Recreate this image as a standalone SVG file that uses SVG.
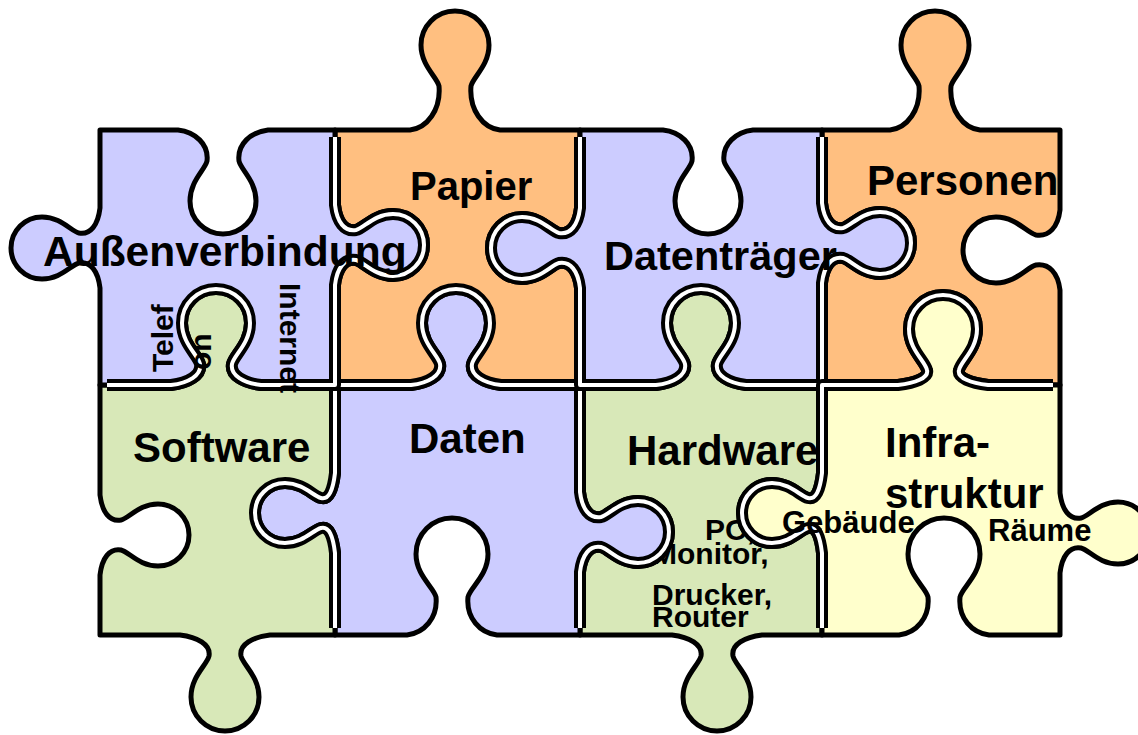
<svg xmlns="http://www.w3.org/2000/svg" xmlns:xlink="http://www.w3.org/1999/xlink" width="1138" height="735" viewBox="0 0 1138 735">
<style>
.pc{stroke:#000;stroke-width:5;stroke-linejoin:round}
.lav{fill:#CCCCFF}.org{fill:#FFBF80}.grn{fill:#D8E8B8}.yel{fill:#FFFFCC}
.sk{fill:none;stroke:#000;stroke-width:12;stroke-linejoin:round}
.sw{fill:none;stroke:#fff;stroke-width:4;stroke-linejoin:round}
.t{font-family:"Liberation Sans",Arial,Helvetica,sans-serif;font-weight:bold;fill:#000;stroke:none}
.big{font-size:42px}.sm{font-size:30px}
</style>
<defs>
<filter id="er" filterUnits="userSpaceOnUse" x="-20" y="-20" width="1200" height="780">
<feMorphology operator="erode" radius="9"/>
</filter>
<mask id="inner" maskUnits="userSpaceOnUse" x="0" y="0" width="1138" height="735">
<g filter="url(#er)" fill="#fff" stroke="#fff" stroke-width="4">
<use href="#pA"/><use href="#pP"/><use href="#pT"/><use href="#pR"/>
<use href="#pW"/><use href="#pD"/><use href="#pH"/><use href="#pI"/>
</g>
</mask>
</defs>
<rect x="0" y="0" width="1138" height="735" fill="#fff"/>

<g id="hardware" class="pc grn">
<path id="pH" d="M580,385 L656,385 C673,383 687,375.5 685,364 C683,355 667,343.5 667,323 A34,34 0 0 1 735,323 C735,343.5 719,355 717,364 C715,375.5 729,383 746,385 L822,385 L822,473 C820,490 816,500 808,498 C800,496 790,483 772,483 A30,30 0 0 0 772,543 C790,543 800,530 808,528 C816,526 820,536 822,553 L822,635 L762,635 C745,637 731,644.5 733,656 C735,665 751,676.5 751,697 A34,34 0 0 1 683,697 C683,676.5 699,665 701,656 C703,644.5 689,637 672,635 L580,635 L580,572 C582,555 589.5,545 601,547 C609,549 619.5,563 638,563 A31,31 0 0 0 638,501 C619.5,501 609,515 601,517 C589.5,519 582,509 580,492 Z"/>
<use href="#pH" class="sk" mask="url(#inner)"/>
<use href="#pH" class="sw" mask="url(#inner)"/>
<text class="t big" x="627" y="465">Hardware</text>
<text class="t sm" x="705" y="540">PC,</text>
<text class="t sm" x="652" y="564">Monitor,</text>
<text class="t sm" x="652" y="605">Drucker,</text>
<text class="t sm" x="652" y="627">Router</text>
</g>

<g id="daten" class="pc lav">
<path id="pD" d="M335,385 L411,385 C428,383 442,375.5 440,364 C438,355 422,343.5 422,323 A34,34 0 0 1 490,323 C490,343.5 474,355 472,364 C470,375.5 484,383 501,385 L580,385 L580,492 C582,509 589.5,519 601,517 C609,515 619.5,501 638,501 A31,31 0 0 1 638,563 C619.5,563 609,549 601,547 C589.5,545 582,555 580,572 L580,635 L497,635 C480,633 466,618 468,597 C470,587.5 488,575.5 488,554 A36,36 0 0 0 416,554 C416,575.5 434,587.5 436,597 C438,618 424,633 407,635 L335,635 L335,553 C333,536 329,526 321,528 C313,530 303,543 285,543 A30,30 0 0 1 285,483 C303,483 313,496 321,498 C329,500 333,490 335,473 Z"/>
<use href="#pD" class="sk" mask="url(#inner)"/>
<use href="#pD" class="sw" mask="url(#inner)"/>
<text class="t big" x="409" y="453">Daten</text>
</g>

<g id="software" class="pc grn">
<path id="pW" d="M100,385 L171,385 C188,383 202,375.5 200,364 C198,355 182,343.5 182,323 A34,34 0 0 1 250,323 C250,343.5 234,355 232,364 C230,375.5 244,383 261,385 L335,385 L335,473 C333,490 329,500 321,498 C313,496 303,483 285,483 A30,30 0 0 0 285,543 C303,543 313,530 321,528 C329,526 333,536 335,553 L335,635 L270,635 C253,637 239,644.5 241,656 C243,665 259,676.5 259,697 A34,34 0 0 1 191,697 C191,676.5 207,665 209,656 C211,644.5 197,637 180,635 L100,635 L100,575 C102,558 109.5,548 121,550 C129,552 139.5,566 158,566 A31,31 0 0 0 158,504 C139.5,504 129,518 121,520 C109.5,522 102,512 100,495 Z"/>
<use href="#pW" class="sk" mask="url(#inner)"/>
<use href="#pW" class="sw" mask="url(#inner)"/>
<text class="t big" x="133" y="462">Software</text>
</g>

<g id="papier" class="pc org">
<path id="pP" d="M335,130 L410,130 C427,128 441,110 439,86 C437,77 421,65.5 421,45 A34,34 0 0 1 489,45 C489,65.5 473,77 471,86 C469,110 483,128 500,130 L580,130 L580,208 C578,225 570.5,235 559,233 C551,231 540.5,217 522,217 A31,31 0 0 0 522,279 C540.5,279 551,265 559,263 C570.5,261 578,271 580,288 L580,385 L501,385 C484,383 470,375.5 472,364 C474,355 490,343.5 490,323 A34,34 0 0 0 422,323 C422,343.5 438,355 440,364 C442,375.5 428,383 411,385 L335,385 L335,285 C337,268 344.5,258 356,260 C364,262 374.5,276 393,276 A31,31 0 0 0 393,214 C374.5,214 364,228 356,230 C344.5,232 337,222 335,205 Z"/>
<use href="#pP" class="sk" mask="url(#inner)"/>
<use href="#pP" class="sw" mask="url(#inner)"/>
<text class="t" style="font-size:40px" x="410" y="200">Papier</text>
</g>

<g id="aussenverbindung" class="pc lav">
<path id="pA" d="M100,130 L178,130 C195,132 209,144 207,161 C205,170 190,181 190,201 A33,33 0 0 0 256,201 C256,181 241,170 239,161 C237,144 251,132 268,130 L335,130 L335,205 C337,222 344.5,232 356,230 C364,228 374.5,214 393,214 A31,31 0 0 1 393,276 C374.5,276 364,262 356,260 C344.5,258 337,268 335,285 L335,385 L261,385 C244,383 230,375.5 232,364 C234,355 250,343.5 250,323 A34,34 0 0 0 182,323 C182,343.5 198,355 200,364 C202,375.5 188,383 171,385 L100,385 L100,288 C98,271 90.5,261 79,263 C71,265 60.5,279 42,279 A31,31 0 0 1 42,217 C60.5,217 71,231 79,233 C90.5,235 98,225 100,208 Z"/>
<use href="#pA" class="sk" mask="url(#inner)"/>
<use href="#pA" class="sw" mask="url(#inner)"/>
<text class="t" style="font-size:42.5px" x="43" y="266">Außenverbindung</text>
<text class="t sm" transform="translate(173,372) rotate(-90)">Telef</text>
<text class="t sm" transform="translate(211,370) rotate(-90)">on</text>
<text class="t sm" transform="translate(280,283) rotate(90)">Internet</text>
</g>

<g id="personen" class="pc org">
<path id="pR" d="M822,130 L890,130 C907,128 921,110 919,86 C917,77 901,65.5 901,45 A34,34 0 0 1 969,45 C969,65.5 953,77 951,86 C949,110 963,128 980,130 L1060,130 L1060,210 C1058,227 1049,237 1036,235 C1027,233 1016,217 996,217 A33,33 0 0 0 996,283 C1016,283 1027,267 1036,265 C1049,263 1058,273 1060,290 L1060,385 L988,385 C971,383 957,378 959,370 C961,361 977,349.5 977,329 A34,34 0 0 0 909,329 C909,349.5 925,361 927,370 C929,378 915,383 898,385 L822,385 L822,283 C824,266 831.5,256 843,258 C851,260 861.5,274 880,274 A31,31 0 0 0 880,212 C861.5,212 851,226 843,228 C831.5,230 824,220 822,203 Z"/>
<use href="#pR" class="sk" mask="url(#inner)"/>
<use href="#pR" class="sw" mask="url(#inner)"/>
<text class="t big" x="867" y="195">Personen</text>
</g>

<g id="datentraeger" class="pc lav">
<path id="pT" d="M580,130 L663,130 C680,132 694,144 692,161 C690,170 675,181 675,201 A33,33 0 0 0 741,201 C741,181 726,170 724,161 C722,144 736,132 753,130 L822,130 L822,203 C824,220 831.5,230 843,228 C851,226 861.5,212 880,212 A31,31 0 0 1 880,274 C861.5,274 851,260 843,258 C831.5,256 824,266 822,283 L822,385 L746,385 C729,383 715,375.5 717,364 C719,355 735,343.5 735,323 A34,34 0 0 0 667,323 C667,343.5 683,355 685,364 C687,375.5 673,383 656,385 L580,385 L580,288 C578,271 570.5,261 559,263 C551,265 540.5,279 522,279 A31,31 0 0 1 522,217 C540.5,217 551,231 559,233 C570.5,235 578,225 580,208 Z"/>
<use href="#pT" class="sk" mask="url(#inner)"/>
<use href="#pT" class="sw" mask="url(#inner)"/>
<text class="t" style="font-size:41.5px" x="604" y="270">Datenträger</text>
</g>

<g id="infrastruktur" class="pc yel">
<path id="pI" d="M822,385 L898,385 C915,383 929,378 927,370 C925,361 909,349.5 909,329 A34,34 0 0 1 977,329 C977,349.5 961,361 959,370 C957,378 971,383 988,385 L1060,385 L1060,493 C1062,510 1069.5,520 1081,518 C1089,516 1099.5,502 1118,502 A31,31 0 0 1 1118,564 C1099.5,564 1089,550 1081,548 C1069.5,546 1062,556 1060,573 L1060,635 L989,635 C972,633 958,618 960,597 C962,587.5 980,575.5 980,554 A36,36 0 0 0 908,554 C908,575.5 926,587.5 928,597 C930,618 916,633 899,635 L822,635 L822,553 C820,536 816,526 808,528 C800,530 790,543 772,543 A30,30 0 0 1 772,483 C790,483 800,496 808,498 C816,500 820,490 822,473 Z"/>
<use href="#pI" class="sk" mask="url(#inner)"/>
<use href="#pI" class="sw" mask="url(#inner)"/>
<text class="t big" x="885" y="457">Infra-</text>
<text class="t big" x="885" y="508">struktur</text>
<text class="t" style="font-size:31px" x="782" y="533">Gebäude</text>
<text class="t" style="font-size:31px" x="988" y="541">Räume</text>
</g>
</svg>
